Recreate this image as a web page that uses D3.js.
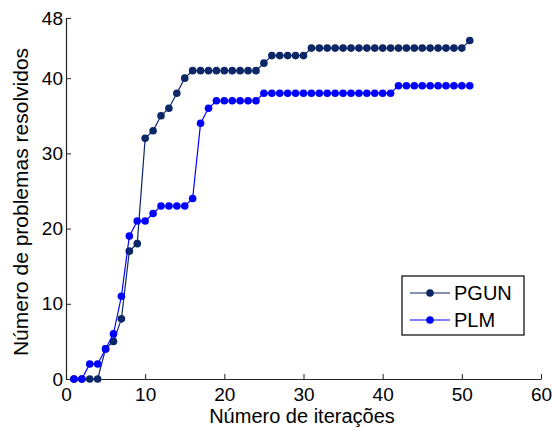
<!DOCTYPE html>
<html>
<head>
<meta charset="utf-8">
<script src="https://cdn.jsdelivr.net/npm/d3@7"></script>
<style>
  body { margin: 0; background: #fff; }
  text { font-family: "Liberation Sans", Arial, sans-serif; fill: #000; }
</style>
</head>
<body>
<svg id="chart" width="553" height="430"></svg>
<script>
// iterations 1..51
const iterations = d3.range(1, 52);
const pgun = [0, 0, 0, 0, 4, 5, 8, 17, 18, 32,
              33, 35, 36, 38, 40, 41, 41, 41, 41, 41,
              41, 41, 41, 41, 42, 43, 43, 43, 43, 43,
              44, 44, 44, 44, 44, 44, 44, 44, 44, 44,
              44, 44, 44, 44, 44, 44, 44, 44, 44, 44, 45];
const plm = [0, 0, 2, 2, 4, 6, 11, 19, 21, 21,
             22, 23, 23, 23, 23, 24, 34, 36, 37, 37,
             37, 37, 37, 37, 38, 38, 38, 38, 38, 38,
             38, 38, 38, 38, 38, 38, 38, 38, 38, 38,
             38, 39, 39, 39, 39, 39, 39, 39, 39, 39, 39];
const xTicks = [0, 10, 20, 30, 40, 50, 60];
const yTicks = [0, 10, 20, 30, 40, 48];
const seriesNames = ['PGUN', 'PLM'];
const seriesColors = ['#0b2766', '#0000ff'];

const margin = { top: 18, right: 12, bottom: 51, left: 66 };
const width = 553 - margin.left - margin.right;
const height = 430 - margin.top - margin.bottom;

const svg = d3.select('#chart');
const g = svg.append('g')
    .attr('transform', `translate(${margin.left},${margin.top})`);

const x = d3.scaleLinear().domain([0, 60]).range([0, width]);
const y = d3.scaleLinear().domain([0, 48]).range([height, 0]);

// axes, ticks pointing inward
const xAxis = g.append('g')
    .attr('transform', `translate(0,${height})`)
    .call(d3.axisBottom(x).tickValues(xTicks).tickSizeInner(-5).tickSizeOuter(0));
const yAxis = g.append('g')
    .call(d3.axisLeft(y).tickValues(yTicks).tickSizeInner(-5).tickSizeOuter(0));

[xAxis, yAxis].forEach(a => {
    a.select('.domain').attr('stroke', '#222').attr('stroke-width', 1.2);
    a.selectAll('.tick line').attr('stroke', '#222');
    a.selectAll('.tick text').style('font-size', '19px').attr('fill', '#000');
});
xAxis.selectAll('.tick text').attr('y', 22).attr('dy', 0);
yAxis.selectAll('.tick text').attr('x', -3);

const series = [pgun, plm];
const line = d3.line()
    .x((d, i) => x(iterations[i]))
    .y(d => y(d));

series.forEach((vals, s) => {
    g.append('path')
        .datum(vals)
        .attr('fill', 'none')
        .attr('stroke', seriesColors[s])
        .attr('stroke-width', 1.2)
        .attr('d', line);
    g.append('g').selectAll('circle')
        .data(vals)
        .enter().append('circle')
        .attr('cx', (d, i) => x(iterations[i]))
        .attr('cy', d => y(d))
        .attr('r', 3.8)
        .attr('fill', seriesColors[s]);
});

// axis titles
svg.append('text')
    .attr('x', 302)
    .attr('y', 423)
    .attr('text-anchor', 'middle')
    .style('font-size', '20px')
    .text('Número de iterações');

svg.append('text')
    .attr('transform', 'translate(28,202) rotate(-90)')
    .attr('text-anchor', 'middle')
    .style('font-size', '21px')
    .text('Número de problemas resolvidos');

// legend
const legend = svg.append('g').attr('transform', 'translate(402,276)');
legend.append('rect')
    .attr('width', 122).attr('height', 59)
    .attr('fill', '#fff').attr('stroke', '#000').attr('stroke-width', 1.2);
seriesNames.forEach((name, i) => {
    const ly = 17 + i * 27;
    legend.append('line')
        .attr('x1', 8).attr('x2', 48).attr('y1', ly).attr('y2', ly)
        .attr('stroke', seriesColors[i]).attr('stroke-width', 1.2);
    legend.append('circle')
        .attr('cx', 28).attr('cy', ly).attr('r', 3.8)
        .attr('fill', seriesColors[i]);
    legend.append('text')
        .attr('x', 52).attr('y', ly + 7)
        .style('font-size', '20px')
        .text(name);
});
</script>
</body>
</html>
